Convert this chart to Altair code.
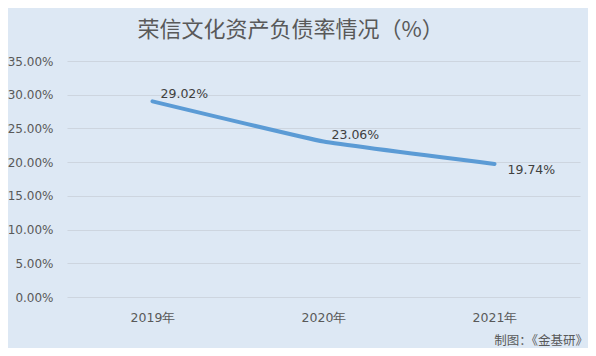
import altair as alt
import pandas as pd

years = ["2019年", "2020年", "2021年"]
ratios = [0.2902, 0.2306, 0.1974]
label_pos = ["above", "above", "below"]
y_ticks = [0.0, 0.05, 0.10, 0.15, 0.20, 0.25, 0.30, 0.35]
title_text = "荣信文化资产负债率情况（%）"
source_text = "制图：《金基研》"

df = pd.DataFrame({"year": years, "ratio": ratios, "pos": label_pos})

FONT = "DejaVu Sans"
GRAY = "#595959"

x = alt.X("year:N", sort=years, title=None,
          axis=alt.Axis(labelAngle=0, ticks=False, domain=False, labelPadding=14,
                        labelFontSize=12.5, labelColor=GRAY, labelFont=FONT))
y = alt.Y("ratio:Q", title=None,
          scale=alt.Scale(domain=[0, 0.35], nice=False),
          axis=alt.Axis(values=y_ticks, format=".2%", ticks=False, domain=False,
                        labelPadding=14, labelFontSize=12, labelColor=GRAY, labelFont=FONT,
                        gridColor="#cdd5df", gridWidth=1))

base = alt.Chart(df)

line = base.mark_line(color="#5b9bd5", strokeWidth=4, interpolate="cardinal", tension=0.7,
                      strokeCap="round", strokeJoin="round").encode(x=x, y=y)

lab_above = base.transform_filter(alt.datum.pos == "above").mark_text(
    align="left", baseline="middle", dx=8, dy=-7, fontSize=12.5, font=FONT, color="#404040"
).encode(x=x, y=y, text=alt.Text("ratio:Q", format=".2%"))

lab_below = base.transform_filter(alt.datum.pos == "below").mark_text(
    align="left", baseline="middle", dx=13, dy=6, fontSize=12.5, font=FONT, color="#404040"
).encode(x=x, y=y, text=alt.Text("ratio:Q", format=".2%"))

src = alt.Chart(pd.DataFrame({"t": [source_text]})).mark_text(
    align="right", baseline="middle", fontSize=12.5, font="Noto Sans CJK SC", color=GRAY
).encode(x=alt.value(521), y=alt.value(280), text="t:N")

chart = alt.layer(line, lab_above, lab_below, src).properties(
    width=513, height=236,
    background="#dde8f4",
    padding={"left": 59, "top": 53, "right": 8, "bottom": 51},
    autosize=alt.AutoSizeParams(type="none"),
    title=alt.TitleParams(title_text, fontSize=22, font="Noto Sans CJK SC", fontWeight="normal",
                          color=GRAY, anchor="middle", frame="group", dx=-33, offset=13),
).configure_view(stroke=None)

chart.save("out.html", embed_options={"renderer": "svg", "actions": False})
